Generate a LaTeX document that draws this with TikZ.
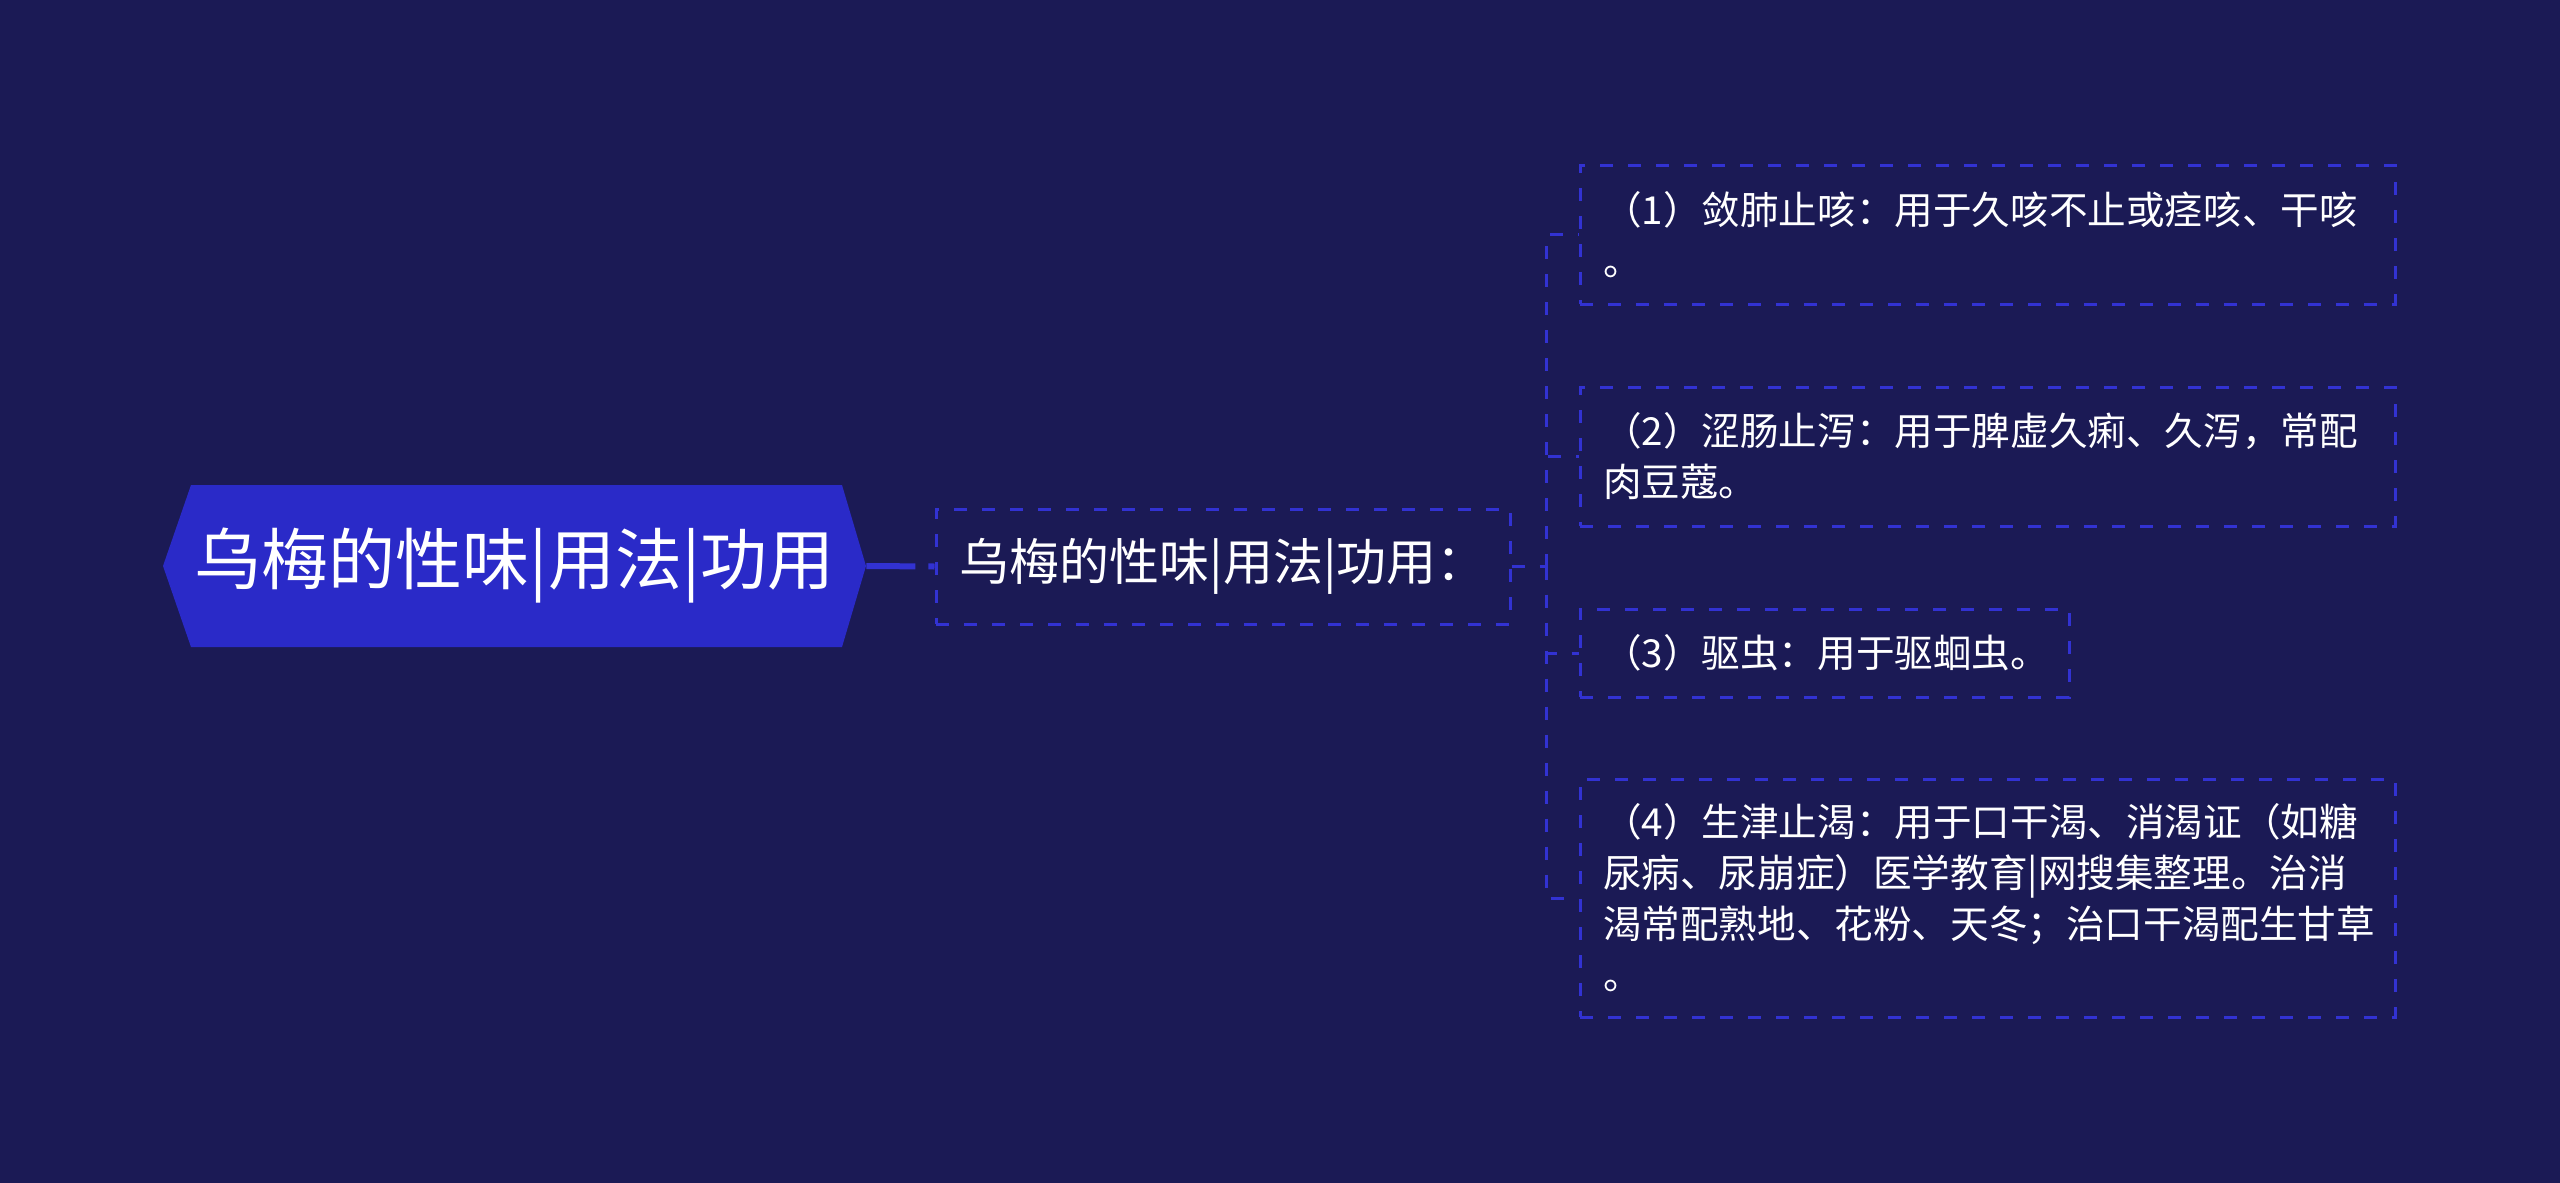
\documentclass[tikz,border=0pt]{standalone}
\usepackage{fontspec}
\newfontfamily\cjk{Noto Sans CJK SC}
\definecolor{bgc}{RGB}{27,26,85}
\definecolor{rootc}{RGB}{42,42,200}
\definecolor{linec}{RGB}{50,50,210}
\begin{document}
\begin{tikzpicture}[x=0.5pt,y=-0.5pt,
  dl/.style={draw=linec,line width=1.5pt,dash pattern=on 6.5pt off 7.5pt},
  rootnode/.style={text=white,inner sep=0pt,minimum width=351.5pt,minimum height=81pt,
     font=\cjk\fontsize{33.5}{40}\selectfont},
  childnode/.style={dl,text=white,inner sep=0pt,minimum width=287pt,minimum height=57.5pt,
     font=\cjk\fontsize{25}{30}\selectfont},
  leafnode/.style={dl,text=white,inner xsep=11.5pt,inner ysep=0pt,align=left,
     font=\cjk\fontsize{19.3}{25.5}\selectfont}
]
\fill[bgc] (0,0) rectangle (2560,1183);
\useasboundingbox (0,0) rectangle (2560,1183);
% root hexagon
\fill[rootc] (163,566) -- (191,485) -- (842,485) -- (866,566) -- (842,647) -- (191,647) -- cycle;
\node[rootnode] (root) at (514.5,566) {乌梅的性味|用法|功用};
\node[childnode] (child) at (1223,566.5) {乌梅的性味|用法|功用：};
\node[leafnode,text width=384.5pt,minimum height=69.5pt] (l1) at (1987.5,234.5)
  {（1）敛肺止咳：用于久咳不止或痉咳、干咳\\。};
\node[leafnode,text width=384.5pt,minimum height=69.5pt] (l2) at (1987.5,456.5)
  {（2）涩肠止泻：用于脾虚久痢、久泻，常配\\肉豆蔻。};
\node[leafnode,text width=221.5pt,minimum height=44pt] (l3) at (1824.5,653)
  {（3）驱虫：用于驱蛔虫。};
\node[leafnode,text width=384.5pt,minimum height=119pt] (l4) at (1987.5,898)
  {（4）生津止渴：用于口干渴、消渴证（如糖\\尿病、尿崩症）医学教育|网搜集整理。治消\\渴常配熟地、花粉、天冬；治口干渴配生甘草\\。};
\coordinate (trunk) at (1546,566.5);
\draw[draw=linec,line width=3pt,dash pattern=on 24.5pt off 6.5pt] (root.east) -- (child.west);
\draw[dl] (child.east) -- (trunk);
\foreach \l in {l1,l2,l3,l4}{
  \draw[dl] (trunk) |- (\l.west);
}
\end{tikzpicture}
\end{document}
